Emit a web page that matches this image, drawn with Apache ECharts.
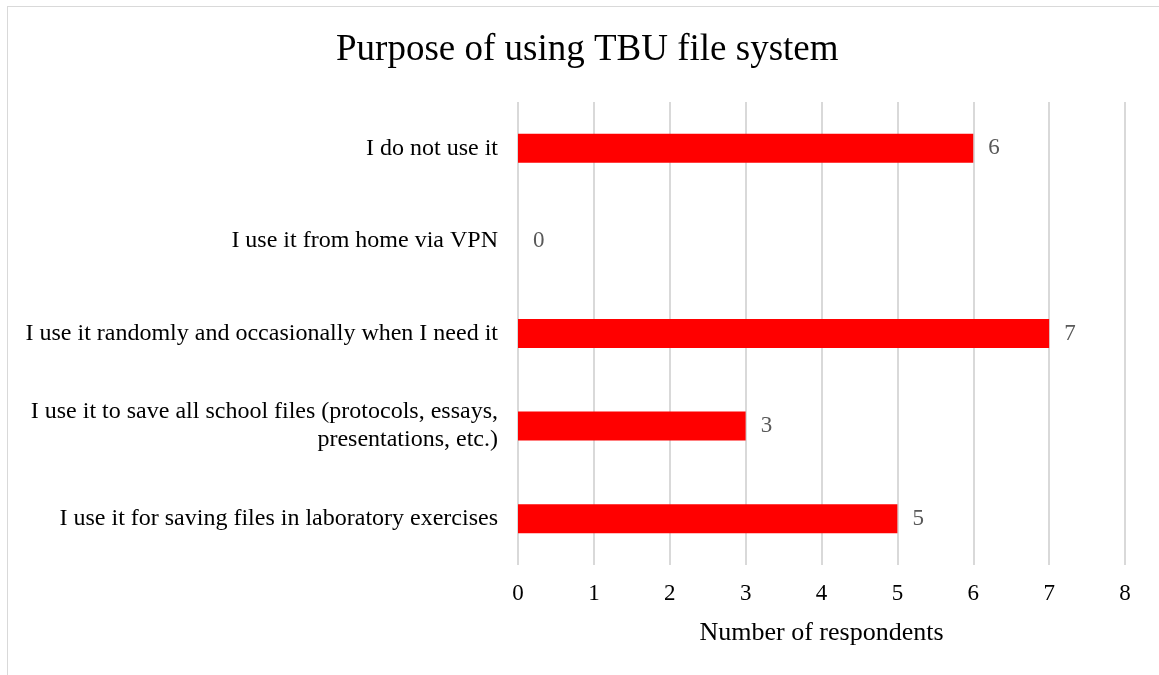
<!DOCTYPE html>
<html>
<head>
<meta charset="utf-8">
<script src="https://cdn.jsdelivr.net/npm/echarts@6/dist/echarts.min.js"></script>
<style>
  html, body { margin: 0; padding: 0; background: #fff; overflow: hidden; }
  #frame { position: absolute; left: 7px; top: 6px; width: 1200px; height: 720px; border-left: 1px solid #d9d9d9; border-top: 1px solid #d9d9d9; }
  #chart { position: absolute; left: 0; top: 0; width: 1159px; height: 675px; }
</style>
</head>
<body>
<div id="frame"></div>
<div id="chart"></div>
<script>
// categories listed bottom to top (category axis on y starts at the bottom)
const categories = [
  'I use it for saving files in laboratory exercises',
  'I use it to save all school files (protocols, essays,\npresentations, etc.)',
  'I use it randomly and occasionally when I need it',
  'I use it from home via VPN',
  'I do not use it'
]
const respondents = [5, 3, 7, 0, 6]
const xTicks = [0, 1, 2, 3, 4, 5, 6, 7, 8]

const serif = '"Liberation Serif", "Times New Roman", serif'
const chart = echarts.init(document.getElementById('chart'))

const option = {
  animation: false,
  title: {
    text: 'Purpose of using TBU file system',
    left: 331,
    top: 27,
    textStyle: {
      fontFamily: serif,
      fontWeight: 'normal',
      fontSize: 37,
      color: '#000'
    }
  },
  grid: {
    left: 518,
    right: 34,
    top: 102,
    bottom: 110
  },
  xAxis: {
    type: 'value',
    min: xTicks[0],
    max: xTicks[xTicks.length - 1],
    interval: 1,
    name: 'Number of respondents',
    nameLocation: 'middle',
    nameGap: 55,
    nameTextStyle: {
      fontFamily: serif,
      fontSize: 26,
      color: '#000'
    },
    axisLine: { show: false },
    axisTick: { show: false },
    axisLabel: {
      fontFamily: serif,
      fontSize: 23,
      color: '#000',
      margin: 17
    },
    splitLine: {
      show: true,
      lineStyle: { color: '#d9d9d9', width: 2 }
    }
  },
  yAxis: {
    type: 'category',
    data: categories,
    axisLine: { show: false },
    axisTick: { show: false },
    axisLabel: {
      fontFamily: serif,
      fontSize: 24,
      color: '#000',
      margin: 20,
      align: 'right',
      lineHeight: 28,
      padding: [4, 0, 0, 0]
    }
  },
  series: [
    {
      name: 'Respondents',
      type: 'bar',
      data: respondents,
      barWidth: 29,
      itemStyle: { color: '#ff0000' },
      label: {
        show: true,
        position: 'right',
        distance: 15,
        fontFamily: serif,
        fontSize: 23,
        color: '#595959'
      }
    }
  ]
}

chart.setOption(option)
</script>
</body>
</html>
